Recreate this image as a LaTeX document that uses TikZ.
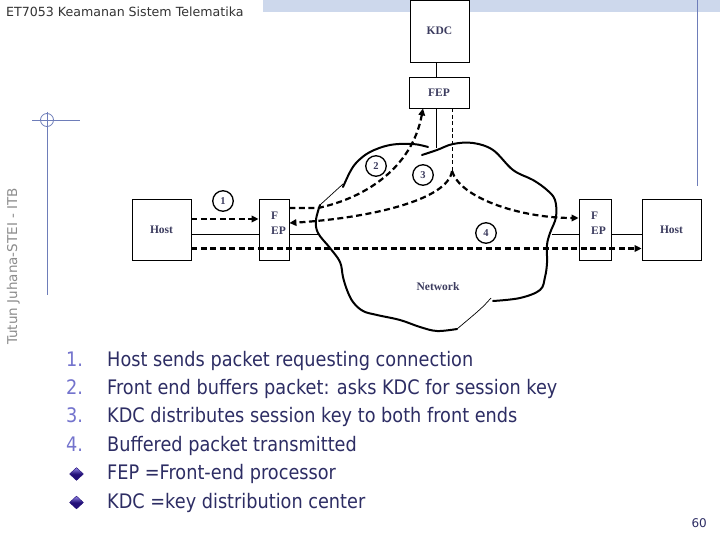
\documentclass[tikz,border=0pt]{standalone}
\usepackage{fontspec}
\setmainfont{DejaVu Sans}
\newfontfamily\listfont[FakeStretch=0.885]{DejaVu Sans}
\newfontfamily\serifb{Liberation Serif}
\usetikzlibrary{arrows.meta,shapes.geometric}
\definecolor{navy}{RGB}{45,45,100}
\definecolor{numblue}{RGB}{115,115,205}
\definecolor{lbl}{RGB}{60,60,95}
\definecolor{deco}{RGB}{110,125,185}
\definecolor{band}{RGB}{205,216,236}
\definecolor{diaL}{RGB}{150,140,235}
\definecolor{diaD}{RGB}{35,15,120}
\tikzset{
  box/.style={draw=black, line width=0.8pt, fill=white, inner sep=0pt},
  lab/.style={font=\serifb\bfseries\fontsize{11.5}{13}\selectfont, text=lbl, inner sep=0pt},
  numc/.style={circle, draw=black, line width=1.3pt, minimum size=20.5pt, inner sep=0pt,
    font=\serifb\bfseries\fontsize{10.5}{11}\selectfont, text=lbl},
  dsh/.style={line width=2.2pt, dash pattern=on 6pt off 3.5pt},
  arr/.style={-{Triangle[length=7pt,width=6.5pt]}},
  cloudline/.style={line width=2pt, line cap=round, line join=round},
  hair/.style={line width=0.7pt},
  decoline/.style={draw=deco, line width=0.8pt},
  itemtxt/.style={anchor=base west, inner sep=0pt, font=\listfont\fontsize{20}{22}\selectfont, text=navy},
  itemnum/.style={anchor=base west, inner sep=0pt, font=\listfont\fontsize{20}{22}\selectfont, text=numblue},
  bullet/.style={diamond, inner sep=0pt, minimum width=14pt, minimum height=13pt, top color=diaL, bottom color=diaD, middle color=diaD, draw=diaD, line width=0.4pt}
}
\begin{document}
\begin{tikzpicture}[x=1pt,y=-1pt]
\useasboundingbox (0,0) rectangle (720,540);
\fill[white] (0,0) rectangle (720,540);
% template decorations
\fill[band] (263,0) rectangle (720,12);
\draw[decoline] (697,0) -- (697,186);
\draw[decoline] (32,120) -- (80,120);
\draw[decoline] (47,112) -- (47,295);
\draw[decoline] (47,120) circle (6.5);
\node[rotate=90, anchor=base west, inner sep=0pt, font=\fontsize{13.5}{15}\selectfont, text=black!45] (side) at (17,345) {Tutun Juhana-STEI - ITB};
\node[anchor=base west, inner sep=0pt, font=\fontsize{12.6}{14}\selectfont, text=black!80] (title) at (6,17) {ET7053 Keamanan Sistem Telematika};

% boxes
\node[box, lab, minimum width=59pt, minimum height=62pt] (KDC) at (439.5,31) {KDC};
\node[box, lab, minimum width=60pt, minimum height=31pt] (FEP) at (439,92.5) {FEP};
\node[box, lab, minimum width=59pt, minimum height=61pt] (lHost) at (161.5,229.5) {Host};
\node[box, minimum width=30pt, minimum height=61pt] (lFEP) at (274,229.5) {};
\node[lab, align=left, anchor=west] (lFEPt) at (271,223) {F\\[2pt]EP};
\node[box, minimum width=32pt, minimum height=61pt] (rFEP) at (595,229.5) {};
\node[lab, align=left, anchor=west] (rFEPt) at (591,223) {F\\[2pt]EP};
\node[box, lab, minimum width=59pt, minimum height=61pt] (rHost) at (671.5,229.5) {Host};

% solid links
\coordinate (ctop) at (436,148);
\coordinate (cleft) at (318,234);
\coordinate (cright) at (552,234);
\coordinate (junc) at (452,171);
\draw[line width=0.8pt] ([xshift=-3.5pt]KDC.south) -- ([xshift=-3pt]FEP.north);
\draw[line width=0.8pt] ([xshift=-3pt]FEP.south) -- (ctop);
\draw[line width=0.8pt] ([yshift=-4.5pt]lHost.east) -- ([yshift=-4.5pt]lFEP.west);
\draw[line width=0.8pt] ([yshift=-4.5pt]lFEP.east) -- (cleft);
\draw[line width=0.8pt] (cright) -- ([yshift=-4.5pt]rFEP.west);
\draw[line width=0.8pt] ([yshift=-4.5pt]rFEP.east) -- ([yshift=-4.5pt]rHost.west);

% network cloud
\draw[cloudline] plot[smooth, tension=0.6] coordinates {(343,187) (350,172) (357,162) (370,152) (390,145) (413,144) (428,147)};
\draw[cloudline] plot[smooth, tension=0.6] coordinates {(422,155) (437,150) (453,144) (473,143) (493,150) (513,170) (533,180) (547,190) (555,200) (556,217) (550,233) (547,245) (547,263) (545,277) (540,290) (520,298) (493,301)};
\draw[hair] (491,298) .. controls (482,308) .. (457,329);
\draw[cloudline] plot[smooth, tension=0.6] coordinates {(457,329) (437,331) (420,327) (400,320) (377,315) (363,311) (353,302) (347,290) (343,277) (340,262) (330,248) (318,233) (316,220) (320,205)};
\draw[hair] (320,205) -- (343,184);
\node[lab] (net) at (438,287) {Network};

% dashed flows
\draw[dsh, arr] ([yshift=10.5pt]lHost.east) -- ([yshift=10.5pt]lFEP.west);
\draw[dsh, arr] ([yshift=21.5pt]lFEP.east) -- (318,208) .. controls (365,198) and (412,168) .. ([xshift=-16pt]FEP.south);
\draw[line width=0.9pt, dash pattern=on 4pt off 2.5pt] ([xshift=13pt]FEP.south) -- (junc);
\draw[dsh, arr] (junc) .. controls (448,200) and (370,218) .. ([yshift=6.5pt]lFEP.east);
\draw[dsh, arr] (junc) .. controls (460,198) and (520,218) .. ([yshift=11.5pt]rFEP.west);
\draw[dsh, arr] ([yshift=-19pt]lHost.east) -- ([yshift=-19pt]rHost.west);

% step numbers
\node[numc] (s1) at (223,201) {1};
\node[numc] (s2) at (376,166) {2};
\node[numc] (s3) at (423,175) {3};
\node[numc] (s4) at (486,233) {4};

% list
\node[itemnum] (n1) at (66,366) {1.};
\node[itemtxt] (t1) at (107,366) {Host sends packet requesting connection};
\node[itemnum] (n2) at (66,394.3) {2.};
\node[itemtxt] (t2) at (107,394.3) {Front end buffers packet: asks KDC for session key};
\node[itemnum] (n3) at (66,422.7) {3.};
\node[itemtxt] (t3) at (107,422.7) {KDC distributes session key to both front ends};
\node[itemnum] (n4) at (66,451) {4.};
\node[itemtxt] (t4) at (107,451) {Buffered packet transmitted};
\node[bullet] (b5) at (76.5,474) {};
\node[itemtxt] (t5) at (107,479.5) {FEP =Front-end processor};
\node[bullet] (b6) at (76.5,502.5) {};
\node[itemtxt] (t6) at (107,508) {KDC =key distribution center};

\node[anchor=base east, inner sep=0pt, font=\fontsize{12}{13}\selectfont, text=navy] (pg) at (707,527) {60};
\end{tikzpicture}
\end{document}
